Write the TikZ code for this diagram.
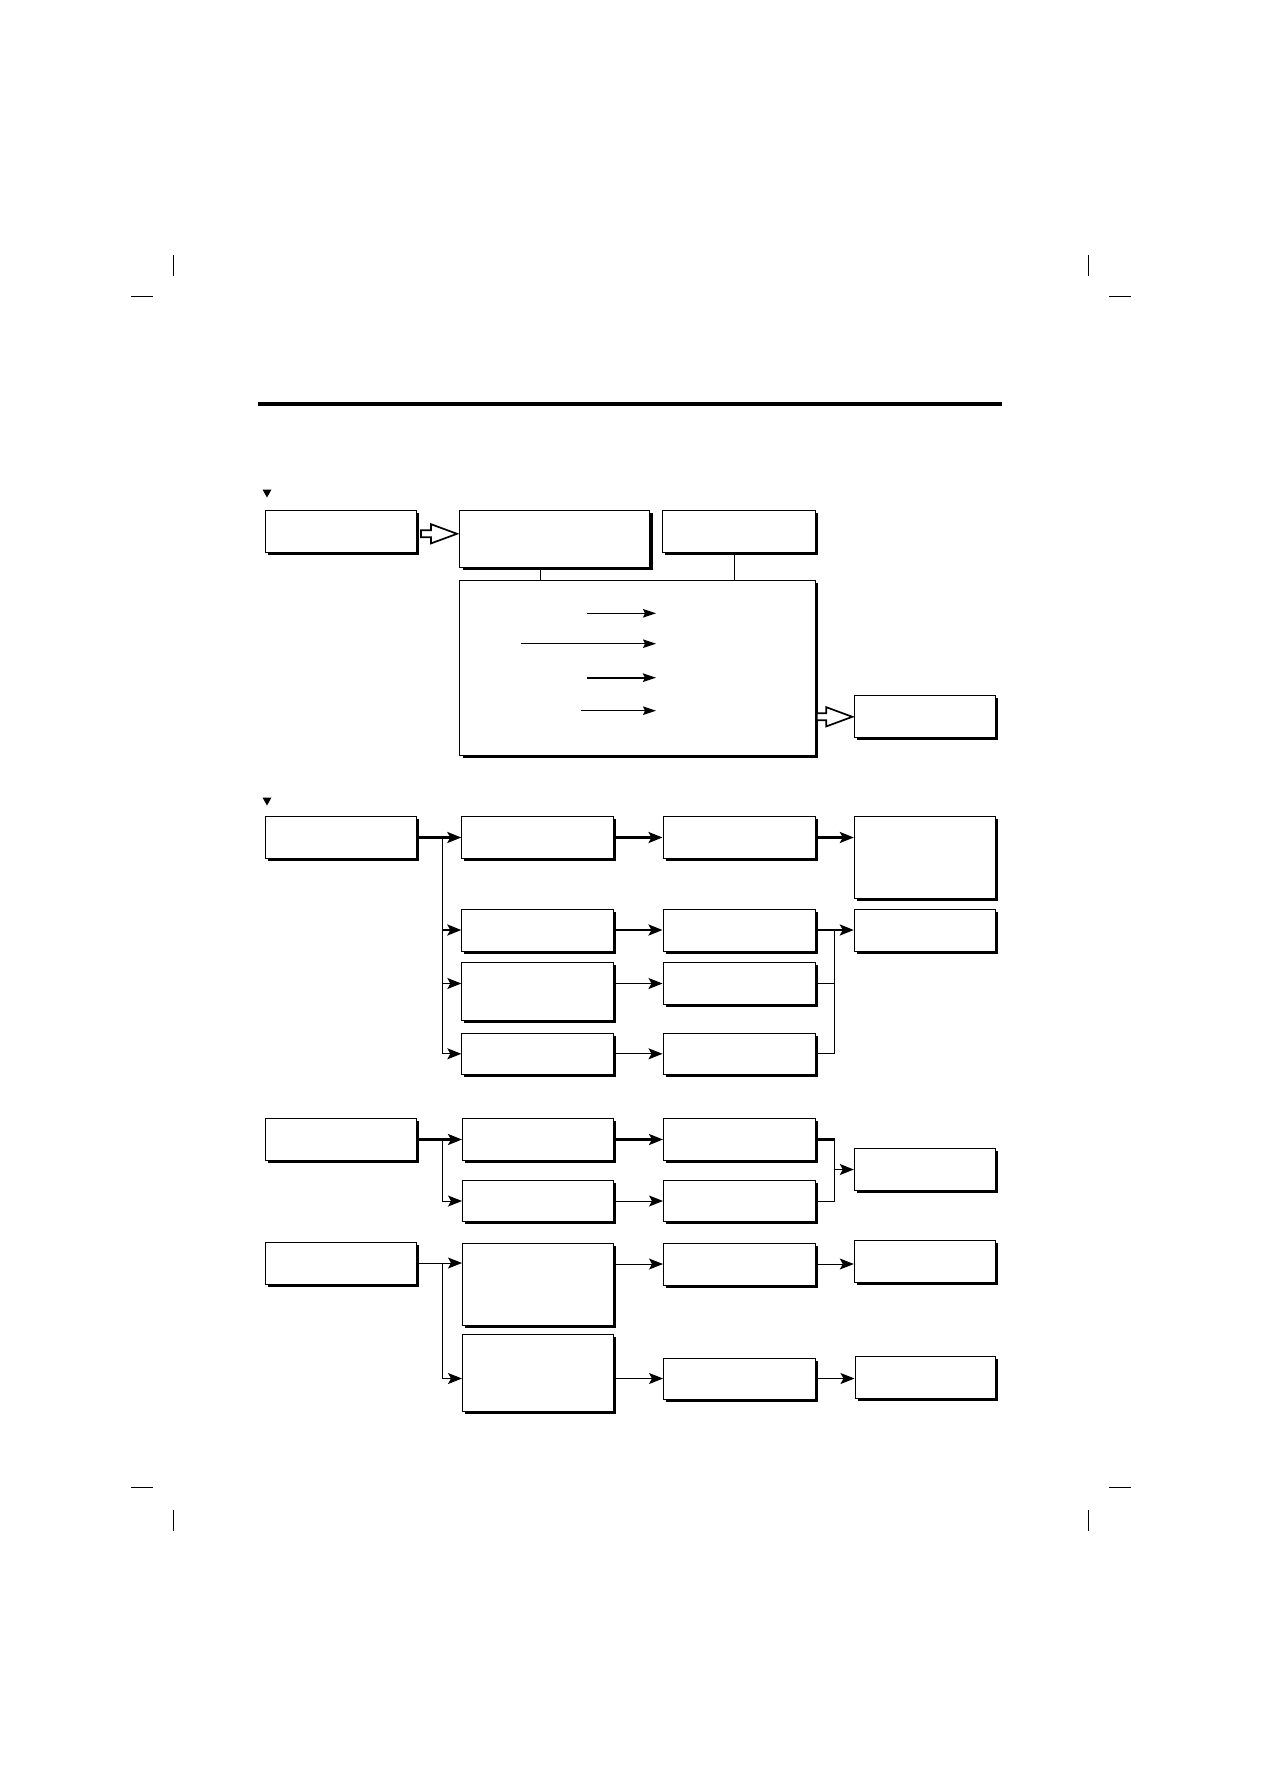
\documentclass[tikz,border=0pt]{standalone}
\usepackage{tikz}
\usetikzlibrary{arrows.meta,calc,shadows}

\begin{document}
\begin{tikzpicture}[x=1pt,y=-1pt,
  box/.style={draw,fill=white,line width=1pt,inner sep=0pt,anchor=north west,
    minimum width=151.5,minimum height=42,
    general shadow={fill=black,shadow xshift=2.6pt,shadow yshift=-2.6pt}},
  narrow/.style={minimum width=141.3},
  ln/.style={line width=1pt},
  lnb/.style={line width=2.4pt},
  arr/.style={line width=1pt,-{Stealth[length=14pt,width=11pt,inset=3pt]}},
  arrb/.style={line width=2.4pt,-{Stealth[length=14pt,width=11pt,inset=3pt]}},
  inarr/.style={line width=1.2pt,-{Stealth[length=13pt,width=8.5pt,inset=2pt]}},
  hol/.style={draw,fill=white,line width=1.7pt,line join=miter}]
\useasboundingbox (0,0) rectangle (1263,1787);

% crop marks and rule
\draw[ln] (173.3,255) -- (173.3,276);
\draw[ln] (131,296.8) -- (152.7,296.8);
\draw[ln] (1088.6,255) -- (1088.6,276);
\draw[ln] (1109,296.8) -- (1130.8,296.8);
\draw[ln] (131,1487.6) -- (152.7,1487.6);
\draw[ln] (173.3,1510) -- (173.3,1531);
\draw[ln] (1109,1487.6) -- (1130.8,1487.6);
\draw[ln] (1088.6,1510) -- (1088.6,1531);
\draw[line width=4pt] (257.6,403.5) -- (1002,403.5);

% first part
\fill (262.5,489.5) -- (271.5,489.5) -- (267,497.5) -- cycle;
\node[box] (a1) at (264.5,509.5) {};
\node[box,minimum width=190,minimum height=57] (a2) at (459.4,509.5) {};
\node[box,minimum width=152.5] (a3) at (662.3,509.5) {};
\node[box,minimum width=355.6,minimum height=174.5] (b) at (459.4,580.2) {};
\node[box,narrow] (c) at (853.8,695.3) {};

\draw[ln] ([xshift=81pt]a2.south west) -- ([xshift=81pt]a2.south west |- b.north);
\draw[ln] ([xshift=72pt]a3.south west) -- ([xshift=72pt]a3.south west |- b.north);

\coordinate (h1) at (457,533.8);
\draw[hol] (h1) -- ++(-26,-9.6) -- ++(0,6.1) -- ++(-10,0) -- ++(0,7)
  -- ++(10,0) -- ++(0,6.1) -- cycle;
\coordinate (h2) at ([xshift=-1.5pt]c.west);
\draw[hol] (h2) -- ++(-26,-9.6) -- ++(0,6.1) -- ++(-9.5,0) -- ++(0,7)
  -- ++(9.5,0) -- ++(0,6.1) -- cycle;

\coordinate (i1) at (587,613.3);   \coordinate (o1) at (656,613.3);
\coordinate (i2) at (521,643.7);   \coordinate (o2) at (656,643.7);
\coordinate (i3) at (587,677.7);   \coordinate (o3) at (656,677.7);
\coordinate (i4) at (581,710.7);   \coordinate (o4) at (656,710.7);
\draw[inarr] (i1) -- (o1);
\draw[inarr] (i2) -- (o2);
\draw[inarr,line width=2.2pt] (i3) -- (o3);
\draw[inarr] (i4) -- (o4);

% second part
\fill (262.5,797.5) -- (271.5,797.5) -- (267,805.5) -- cycle;
\coordinate (bx) at (442,0);
\coordinate (mx) at (834.4,0);
\node[box] (p1) at (264.5,816) {};
\node[box] (p2) at (461.3,816) {};
\node[box,minimum width=152] (p3) at (662.5,816) {};
\node[box,narrow,minimum height=82] (p4) at (853.8,816) {};
\node[box] (q2) at (461.3,908.5) {};
\node[box,minimum width=152] (q3) at (662.5,908.5) {};
\node[box,narrow] (q4) at (853.8,908.5) {};
\node[box,minimum height=58] (r2) at (461.3,962) {};
\node[box,minimum width=152] (r3) at (662.5,962) {};
\node[box,minimum height=41] (s2) at (461.3,1032.8) {};
\node[box,minimum width=152,minimum height=41] (s3) at (662.5,1032.8) {};

\draw[arrb] (p1.east) -- (p2.west);
\draw[ln] (bx |- p1.east) -- (bx |- s2.west);
\draw[arrb] (bx |- q2.west) -- (q2.west);
\draw[arr] (bx |- r3.west) -- (r2.west |- r3.west);
\draw[arr] (bx |- s2.west) -- (s2.west);
\draw[arrb] (p2.east) -- (p3.west);
\draw[arrb] (p3.east) -- (p4.west |- p3.east);
\draw[arrb] (q2.east) -- (q3.west);
\draw[arrb] (q3.east) -- (q4.west);
\draw[arr] (r2.east |- r3.west) -- (r3.west);
\draw[arr] (s2.east) -- (s3.west);
\draw[ln] (r3.east) -- (mx |- r3.east);
\draw[ln] (s3.east) -- (mx |- s3.east) -- (mx |- q3.east);

% third part
\node[box] (d1) at (264.5,1118) {};
\node[box,minimum width=151] (d2) at (462,1118) {};
\node[box,minimum width=152] (d3) at (663,1118) {};
\node[box,narrow] (d4) at (853.8,1148) {};
\node[box,minimum width=151,minimum height=41] (f2) at (462,1180) {};
\node[box,minimum width=152,minimum height=41] (f3) at (663,1180) {};

\draw[arrb] (d1.east) -- (d2.west);
\draw[ln] (bx |- d1.east) -- (bx |- f2.west);
\draw[arr] (bx |- f2.west) -- (f2.west);
\draw[arrb] (d2.east) -- (d3.west);
\draw[arr] (f2.east) -- (f3.west);
\draw[lnb] (d3.east) -- ([xshift=0.7pt]mx |- d3.east);
\draw[ln] (mx |- d3.east) -- (mx |- f3.east) -- (f3.east);
\draw[arr] (mx |- d4.west) -- (d4.west);

% fourth part
\node[box] (e1) at (264.5,1241.5) {};
\node[box,minimum width=151,minimum height=82.5] (e2) at (462,1242.5) {};
\node[box,minimum width=152] (e3) at (663,1242.5) {};
\node[box,narrow] (e4) at (853.8,1239.5) {};
\node[box,minimum width=151,minimum height=77] (e5) at (462,1333.5) {};
\node[box,minimum width=152,minimum height=41] (e6) at (663,1357.5) {};
\node[box,minimum width=140.5] (e7) at (854.5,1355.5) {};

\draw[arr] (e1.east) -- (e2.west |- e1.east);
\draw[ln] (bx |- e1.east) -- (bx |- e6.west);
\draw[arr] (bx |- e6.west) -- (e5.west |- e6.west);
\draw[arr] (e2.east |- e3.west) -- (e3.west);
\draw[arr] (e3.east) -- (e4.west |- e3.east);
\draw[arr] (e5.east |- e6.west) -- (e6.west);
\draw[arr] (e6.east) -- (e7.west |- e6.east);
\end{tikzpicture}
\end{document}
